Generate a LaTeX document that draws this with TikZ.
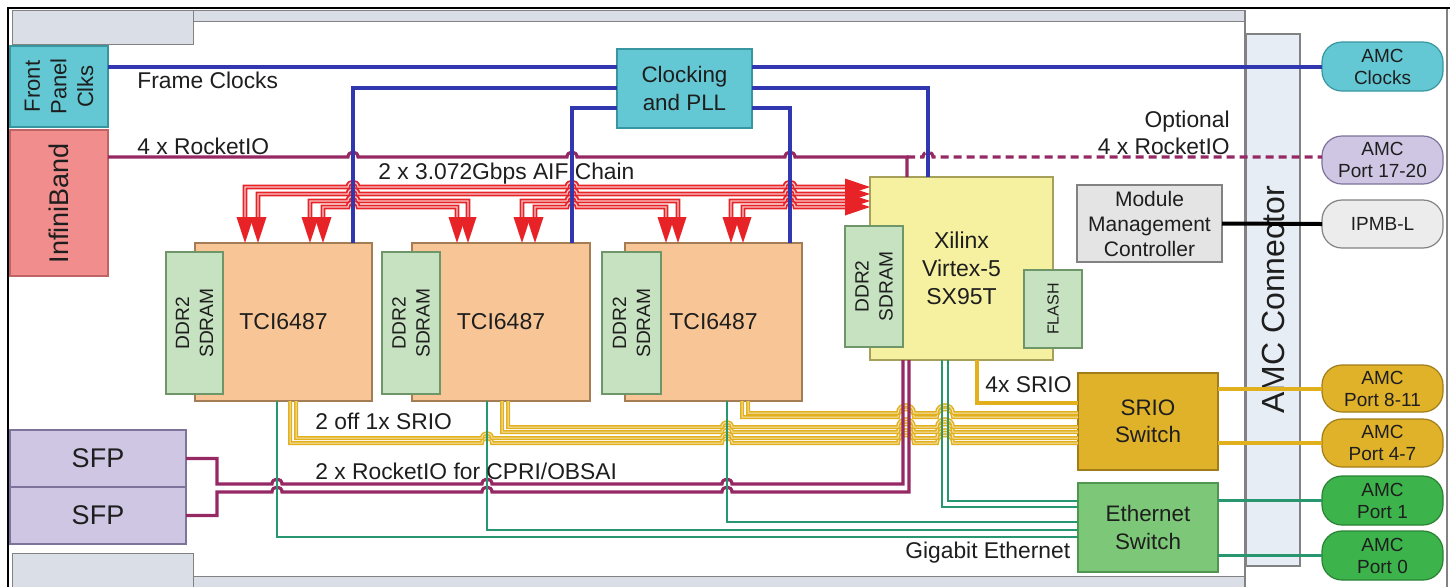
\documentclass[tikz,border=0pt]{standalone}
\usepackage{fontspec}
\setmainfont{Liberation Sans}
\usetikzlibrary{calc}
\definecolor{cteal}{RGB}{99,200,212}
\definecolor{cteald}{RGB}{55,150,160}
\definecolor{cpink}{RGB}{241,141,141}
\definecolor{cpinkd}{RGB}{190,100,100}
\definecolor{clav}{RGB}{206,198,226}
\definecolor{clavd}{RGB}{125,115,155}
\definecolor{corg}{RGB}{248,198,150}
\definecolor{corgd}{RGB}{165,125,85}
\definecolor{cddr}{RGB}{198,226,192}
\definecolor{cddrd}{RGB}{110,150,105}
\definecolor{cxil}{RGB}{246,241,160}
\definecolor{cxild}{RGB}{165,160,90}
\definecolor{cgry}{RGB}{228,228,228}
\definecolor{cgryd}{RGB}{130,130,130}
\definecolor{cgold}{RGB}{224,178,42}
\definecolor{cgoldd}{RGB}{160,125,25}
\definecolor{ceth}{RGB}{125,200,120}
\definecolor{cethd}{RGB}{80,150,80}
\definecolor{cpg}{RGB}{60,180,75}
\definecolor{cpgd}{RGB}{40,130,50}
\definecolor{cipmb}{RGB}{236,236,236}
\definecolor{cblue}{RGB}{48,55,175}
\definecolor{cpurp}{RGB}{150,40,100}
\definecolor{cred}{RGB}{232,35,40}
\definecolor{cylw}{RGB}{226,176,28}
\definecolor{cgrn}{RGB}{40,150,110}
\definecolor{ctxt}{RGB}{30,30,30}
\definecolor{cbar}{RGB}{218,223,231}
\definecolor{ccol}{RGB}{231,237,244}
\newcommand\bx[7]{\node[#6, minimum width={(#4-(#2))*0.5pt}, minimum height={(#5-(#3))*0.5pt}] (#1) at ({(#2+#4)/2},{(#3+#5)/2}) {#7};}
\newcommand\hp[3]{-- ({#1-#3},#2) .. controls ({#1-#3},{#2-1.3*#3}) and ({#1+#3},{#2-1.3*#3}) .. ({#1+#3},#2)}
\newcommand\dar[1]{\fill[cred] ({#1-8.5},217) -- ({#1+8.5},217) -- (#1,243) -- cycle;}
\newcommand\rar[1]{\fill[cred] (845,{#1-8.5}) -- (845,{#1+8.5}) -- (870,#1) -- cycle;}
\begin{document}
\begin{tikzpicture}[x=0.5pt,y=-0.5pt,
  box/.style={draw, line width=0.6pt, inner sep=0pt, outer sep=0pt, align=center, text=ctxt},
  pill/.style={box, rounded corners=10pt, font=\fontsize{9.5}{11}\selectfont},
  lbl/.style={font=\fontsize{11.4}{13.5}\selectfont, text=ctxt, inner sep=0pt},
  ddrtxt/.style={rotate=90, align=center, text=ctxt, font=\fontsize{9.6}{12}\selectfont},
  bwire/.style={draw=cblue, line width=1.6pt},
  pwire/.style={draw=cpurp, line width=1.6pt},
  gwire/.style={draw=cgrn, line width=1.2pt},
  ywire/.style={draw=cylw, line width=0.75pt, double=cylw!35!white, double distance=0.5pt},
  rwire/.style={draw=cred, line width=0.9pt, double=cred!25!white, double distance=0.6pt},
]
\useasboundingbox (0,0) rectangle (1453,586);
\fill[white] (0,0) rectangle (1453,586);
% board outline and bars
\draw[cgryd, line width=0.5pt, fill=cbar] (193,10) rectangle (1245,21);
\draw[cgryd, line width=0.5pt, fill=cbar] (12,10) rectangle (193,44);
\draw[cgryd, line width=0.5pt, fill=cbar] (193,576) rectangle (1245,590);
\draw[cgryd, line width=0.5pt, fill=cbar] (12,553) rectangle (193,590);
\draw[cgryd, line width=0.6pt] (1245,10) -- (1245,590);
\draw[cgryd, line width=0.6pt] (1447,8) -- (1447,590);
\draw[black, line width=1.2pt] (8,590) -- (8,8) -- (1450,8);
\bx{conn}{1246}{34}{1300}{566}{box, draw=cgryd, fill=ccol}{}
\node[rotate=90, font=\fontsize{16}{18}\selectfont, text=ctxt] at (conn) {AMC Connector};
% boxes
\bx{fpc}{10}{46}{108}{127}{box, draw=cteald, fill=cteal}{}
\node[rotate=90, align=center, text=ctxt, font=\fontsize{11}{13.3}\selectfont] at (fpc) {Front\\Panel\\Clks};
\bx{ib}{10}{130}{108}{276}{box, draw=cpinkd, fill=cpink}{}
\node[rotate=90, text=ctxt, font=\fontsize{13.5}{15}\selectfont] at (ib) {InfiniBand};
\bx{sfp1}{10}{430}{186}{487}{box, draw=clavd, fill=clav, font=\fontsize{13.5}{16}\selectfont}{SFP}
\bx{sfp2}{10}{487}{186}{544}{box, draw=clavd, fill=clav, font=\fontsize{13.5}{16}\selectfont}{SFP}
\bx{clk}{617}{49}{752}{128}{box, draw=cteald, fill=cteal, font=\fontsize{11.2}{14}\selectfont}{Clocking\\and PLL}
\bx{tci1}{195}{243}{372}{401}{box, draw=corgd, fill=corg, font=\fontsize{11.5}{14}\selectfont}{TCI6487}
\bx{tci2}{412}{243}{590}{401}{box, draw=corgd, fill=corg, font=\fontsize{11.5}{14}\selectfont}{TCI6487}
\bx{tci3}{625}{243}{802}{401}{box, draw=corgd, fill=corg, font=\fontsize{11.5}{14}\selectfont}{TCI6487}
\bx{ddr1}{166}{252}{223}{394}{box, draw=cddrd, fill=cddr}{}
\node[ddrtxt] at (ddr1) {DDR2\\SDRAM};
\bx{ddr2}{382}{252}{440}{394}{box, draw=cddrd, fill=cddr}{}
\node[ddrtxt] at (ddr2) {DDR2\\SDRAM};
\bx{ddr3}{602}{252}{661}{394}{box, draw=cddrd, fill=cddr}{}
\node[ddrtxt] at (ddr3) {DDR2\\SDRAM};
\bx{xil}{870}{177}{1053}{360}{box, draw=cxild, fill=cxil, font=\fontsize{11.5}{14}\selectfont}{Xilinx\\Virtex-5\\SX95T}
\bx{ddrx}{845}{226}{903}{347}{box, draw=cddrd, fill=cddr}{}
\node[ddrtxt] at (ddrx) {DDR2\\SDRAM};
\bx{flash}{1024}{270}{1082}{348}{box, draw=cddrd, fill=cddr}{}
\node[rotate=90, text=ctxt, font=\fontsize{8}{10}\selectfont] at (flash) {FLASH};
\bx{mmc}{1077}{185}{1222}{262}{box, draw=cgryd, fill=cgry, font=\fontsize{10.5}{12.5}\selectfont}{Module\\Management\\Controller}
\bx{srio}{1078}{373}{1218}{470}{box, draw=cgoldd, fill=cgold, font=\fontsize{11.2}{13.5}\selectfont}{SRIO\\Switch}
\bx{eth}{1078}{483}{1218}{572}{box, draw=cethd, fill=ceth, font=\fontsize{11.2}{14}\selectfont}{Ethernet\\Switch}
\bx{amcclk}{1322}{42}{1443}{91}{pill, draw=cteald, fill=cteal}{AMC\\Clocks}
\bx{p1720}{1322}{136}{1443}{184}{pill, draw=clavd, fill=clav}{AMC\\Port 17-20}
\bx{ipmb}{1322}{200}{1443}{248}{pill, draw=cgryd, fill=cipmb}{IPMB-L}
\bx{p811}{1322}{365}{1443}{412}{pill, draw=cgoldd, fill=cgold}{AMC\\Port 8-11}
\bx{p47}{1322}{419}{1443}{467}{pill, draw=cgoldd, fill=cgold}{AMC\\Port 4-7}
\bx{p1}{1322}{476}{1443}{525}{pill, draw=cpgd, fill=cpg}{AMC\\Port 1}
\bx{p0}{1322}{531}{1443}{580}{pill, draw=cpgd, fill=cpg}{AMC\\Port 0}
% yellow SRIO wires
\draw[ywire] (tci1.south -| 290,0) -- (290,443) \hp{487}{443}{5} \hp{727}{443}{5} \hp{906}{443}{8} \hp{945}{443}{8} -- (srio.west |- 0,443);
\draw[ywire] (tci1.south -| 296,0) -- (296,438) \hp{487}{438}{5} \hp{727}{438}{5} \hp{906}{438}{8} \hp{945}{438}{8} -- (srio.west |- 0,438);
\draw[ywire] (tci2.south -| 502,0) -- (502,432) \hp{727}{432}{5} \hp{906}{432}{8} \hp{945}{432}{8} -- (srio.west |- 0,432);
\draw[ywire] (tci2.south -| 508,0) -- (508,427) \hp{727}{427}{5} \hp{906}{427}{8} \hp{945}{427}{8} -- (srio.west |- 0,427);
\draw[ywire] (tci3.south -| 742,0) -- (742,417) \hp{906}{417}{8} \hp{945}{417}{8} -- (srio.west |- 0,417);
\draw[ywire] (tci3.south -| 748,0) -- (748,413) \hp{906}{413}{8} \hp{945}{413}{8} -- (srio.west |- 0,413);
\draw[cylw, line width=2pt] (xil.south -| 977,0) |- (srio.west |- 0,403);
% purple CPRI wires
\draw[pwire] (sfp1.east) -| (217,484) \hp{277}{484}{5} \hp{487}{484}{5} \hp{727}{484}{5} -- (903,484) -- (xil.south -| 903,0);
\draw[pwire] (sfp2.east) -| (217,492) \hp{277}{492}{5} \hp{487}{492}{5} \hp{727}{492}{5} -- (909,492) -- (xil.south -| 909,0);
% green ethernet wires
\draw[gwire] (tci1.south -| 277,0) |- (eth.west |- 0,537);
\draw[gwire] (tci2.south -| 487,0) |- (eth.west |- 0,530);
\draw[gwire] (tci3.south -| 727,0) |- (eth.west |- 0,522);
\draw[gwire] (xil.south -| 942,0) |- (eth.west |- 0,507);
\draw[gwire] (xil.south -| 948,0) |- (eth.west |- 0,501);
% red AIF chain
\draw[rwire] (245,218) -- (245,187) \hp{353}{187}{5} \hp{572}{187}{5} \hp{790}{187}{5} -- (846,187);
\draw[rwire] (258,218) -- (258,194) \hp{353}{194}{5} \hp{572}{194}{5} \hp{790}{194}{5} -- (846,194);
\draw[rwire] (310,218) -- (310,201) \hp{353}{201}{5} -- (468,201) -- (468,218);
\draw[rwire] (323,218) -- (323,207) \hp{353}{207}{5} -- (457,207) -- (457,218);
\draw[rwire] (522,218) -- (522,201) \hp{572}{201}{5} -- (678,201) -- (678,218);
\draw[rwire] (535,218) -- (535,207) \hp{572}{207}{5} -- (666,207) -- (666,218);
\draw[rwire] (731,218) -- (731,201) \hp{790}{201}{5} -- (846,201);
\draw[rwire] (743,218) -- (743,207) \hp{790}{207}{5} -- (846,207);
\dar{245}\dar{258}\dar{310}\dar{323}\dar{457}\dar{468}
\dar{522}\dar{535}\dar{666}\dar{678}\dar{731}\dar{743}
\rar{187}\rar{194}\rar{201}\rar{207}
% purple InfiniBand wire
\draw[pwire] (ib.east |- 0,157) \hp{353}{157}{5} \hp{572}{157}{5} \hp{790}{157}{5} -- (907,157) -- (xil.north -| 907,0);
\draw[pwire, dash pattern=on 4pt off 2.5pt] (907,157) \hp{928}{157}{5} -- (p1720.west |- 0,157);
% blue clock wires
\draw[bwire] (fpc.east |- 0,67) -- (clk.west |- 0,67);
\draw[bwire] (clk.east |- 0,67) -- (amcclk.west |- 0,67);
\draw[bwire] (tci1.north -| 353,0) |- (clk.west |- 0,88);
\draw[bwire] (tci2.north -| 572,0) |- (clk.west |- 0,108);
\draw[bwire] (tci3.north -| 790,0) |- (clk.east |- 0,108);
\draw[bwire] (xil.north -| 928,0) |- (clk.east |- 0,88);
% external links
\draw[black, line width=2pt] (mmc.east) -- (ipmb.west);
\draw[cylw, line width=2pt] (srio.east |- p811.west) -- (p811.west);
\draw[cylw, line width=2pt] (srio.east |- p47.west) -- (p47.west);
\draw[cgrn, line width=1.6pt] (eth.east |- p1.west) -- (p1.west);
\draw[cgrn, line width=1.6pt] (eth.east |- p0.west) -- (p0.west);
% labels
\node[lbl, anchor=west] at (137,80) {Frame Clocks};
\node[lbl, anchor=west] at (137,146) {4 x RocketIO};
\node[lbl, anchor=west] at (378,174) {2 x 3.072Gbps AIF Chain};
\node[lbl, anchor=east, align=right] at (1230,133) {Optional\\4 x RocketIO};
\node[lbl, anchor=west] at (315,421) {2 off 1x SRIO};
\node[lbl, anchor=west] at (315,471) {2 x RocketIO for CPRI/OBSAI};
\node[lbl, anchor=west] at (985,385) {4x SRIO};
\node[lbl, anchor=west] at (905,553) {Gigabit Ethernet};
\end{tikzpicture}
\end{document}
